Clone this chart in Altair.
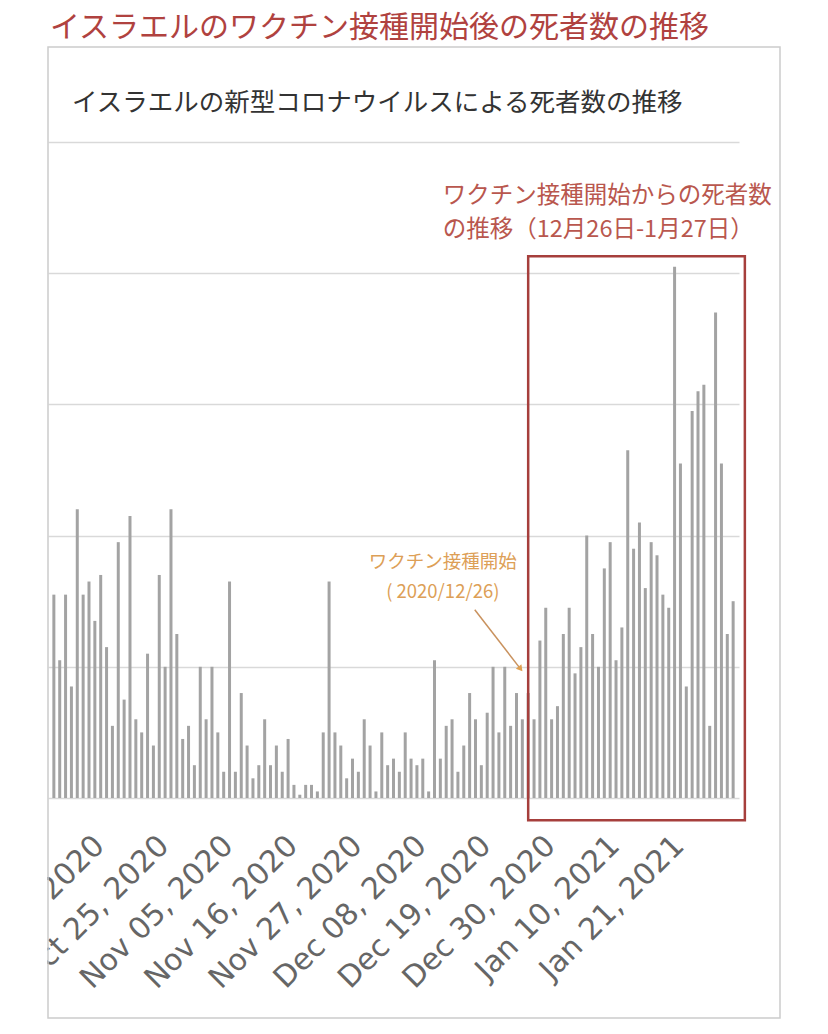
# imports
import pandas as pd
import altair as alt

# daily deaths in Israel, Oct 5 2020 - Jan 29 2021 (grid step = 20)
dates = pd.date_range('2020-10-05', '2021-01-29', freq='D').strftime('%Y-%m-%d').tolist()
deaths = [31, 21, 31, 17, 44, 31, 33, 27, 34, 23,
          11, 39, 15, 43, 12, 10, 22, 8, 34, 20,
          44, 25, 9, 11, 5, 20, 12, 20, 10, 4,
          33, 4, 16, 8, 3, 5, 12, 5, 8, 4,
          9, 2, 0.5, 2, 2, 1, 10, 33, 10, 8,
          3, 6, 4, 12, 8, 1, 10, 5, 6, 4,
          10, 6, 5, 6, 1, 21, 6, 11, 12, 4,
          8, 16, 12, 5, 13, 20, 10, 20, 11, 16,
          12, 16, 12, 24, 29, 12, 14, 25, 29, 19,
          23, 40, 25, 20, 35, 39, 21, 26, 53, 38,
          42, 32, 39, 37, 31, 29, 81, 51, 17, 59,
          62, 63, 11, 74, 51, 25, 30]

tick_dates = ['2020-10-14', '2020-10-25', '2020-11-05', '2020-11-16', '2020-11-27',
              '2020-12-08', '2020-12-19', '2020-12-30', '2021-01-10', '2021-01-21']
grid_values = [0, 20, 40, 60, 80, 100]

# annotations
main_title = 'イスラエルのワクチン接種開始後の死者数の推移'
sub_title = 'イスラエルの新型コロナウイルスによる死者数の推移'
box_lines = ['ワクチン接種開始からの死者数', 'の推移（12月26日-1月27日）']
start_lines = ['ワクチン接種開始', '( 2020/12/26)']


def dt(s):
    y, m, d = s.split('-')
    return alt.DateTime(year=int(y), month=int(m), date=int(d), utc=True)


df = pd.DataFrame({'date': dates, 'deaths': deaths})

x_scale = alt.Scale(type='utc', domain=[dt('2020-10-04'), dt('2021-01-30')], padding=0)
y_scale = alt.Scale(domain=[0, 100], nice=False)
jp_font = 'Noto Sans CJK JP'

bars = alt.Chart(df).mark_bar(color='#a3a3a3', size=3).encode(
    x=alt.X('date:T', scale=x_scale, title=None,
            axis=alt.Axis(values=[dt(t) for t in tick_dates], format='%b %d, %Y',
                          labelAngle=-45, labelFont='DejaVu Sans', labelFontSize=30,
                          labelColor='#666666', labelPadding=32, labelLimit=400,
                          labelOffset=-18, ticks=False, domain=False, grid=False,
                          labelOverlap=False)),
    y=alt.Y('deaths:Q', scale=y_scale, title=None,
            axis=alt.Axis(values=grid_values, labels=False, ticks=False, domain=False,
                          gridColor='#d9d9d9', gridWidth=1.5)),
)

# red box round the period after vaccination began
box_df = pd.DataFrame({'start': ['2020-12-25T00:00:00Z'], 'end': ['2021-01-31T00:00:00Z'],
                       'top': [82.6], 'bottom': [-3.4]})
red_box = alt.Chart(box_df).mark_rect(fillOpacity=0, stroke='#a63f3c', strokeWidth=2.5).encode(
    x=alt.X('start:T', scale=x_scale), x2='end:T',
    y=alt.Y('top:Q', scale=y_scale), y2='bottom:Q')

box_text_df = pd.DataFrame({'date': ['2020-12-10T10:00:00Z'] * 2, 'v': [91.8, 86.6], 'txt': box_lines})
box_text = alt.Chart(box_text_df).mark_text(
    align='left', baseline='middle', font=jp_font, fontSize=23.5, color='#b9574e').encode(
    x=alt.X('date:T', scale=x_scale), y=alt.Y('v:Q', scale=y_scale), text='txt:N')

start_text_df = pd.DataFrame({'date': ['2020-12-10T10:00:00Z'] * 2, 'v': [36.0, 31.4], 'txt': start_lines})
start_text = alt.Chart(start_text_df).mark_text(
    align='center', baseline='middle', font=jp_font, fontSize=18.5, color='#dd9f57').encode(
    x=alt.X('date:T', scale=x_scale), y=alt.Y('v:Q', scale=y_scale), text='txt:N')

arrow_df = pd.DataFrame({'date': ['2020-12-15T21:00:00Z', '2020-12-23T14:00:00Z'], 'v': [28.7, 19.8]})
arrow_line = alt.Chart(arrow_df).mark_line(color='#c9925e', strokeWidth=1.5).encode(
    x=alt.X('date:T', scale=x_scale), y=alt.Y('v:Q', scale=y_scale))
arrow_head = alt.Chart(arrow_df.tail(1)).mark_point(
    shape='triangle', angle=142, filled=True, size=50, color='#e0a050', opacity=1).encode(
    x=alt.X('date:T', scale=x_scale), y=alt.Y('v:Q', scale=y_scale))

# frame, titles and the white margin that cuts the first labels
one = pd.DataFrame({'a': [0]})
mask = alt.Chart(one).mark_rect(color='white').encode(
    x=alt.value(-40), x2=alt.value(-1), y=alt.value(0), y2=alt.value(900))
frame = alt.Chart(one).mark_rect(fillOpacity=0, stroke='#cccccc', strokeWidth=1.5).encode(
    x=alt.value(0), x2=alt.value(732), y=alt.value(-95), y2=alt.value(876))
title_txt = alt.Chart(one).mark_text(
    align='left', baseline='middle', font=jp_font, fontSize=30, color='#b0423f', text=main_title).encode(
    x=alt.value(2), y=alt.value(-114))
sub_txt = alt.Chart(one).mark_text(
    align='left', baseline='middle', font=jp_font, fontSize=25.5, color='#333333', text=sub_title).encode(
    x=alt.value(24), y=alt.value(-39))

chart = (
    alt.layer(bars, red_box, box_text, start_text, arrow_line, arrow_head,
              mask, frame, title_txt, sub_txt)
    .properties(width=691, height=656, autosize='none', background='white',
                padding={'left': 40, 'top': 134, 'right': 70, 'bottom': 228})
    .configure_view(stroke=None)
)

chart.save("out.html", embed_options={"renderer": "svg", "actions": False})
